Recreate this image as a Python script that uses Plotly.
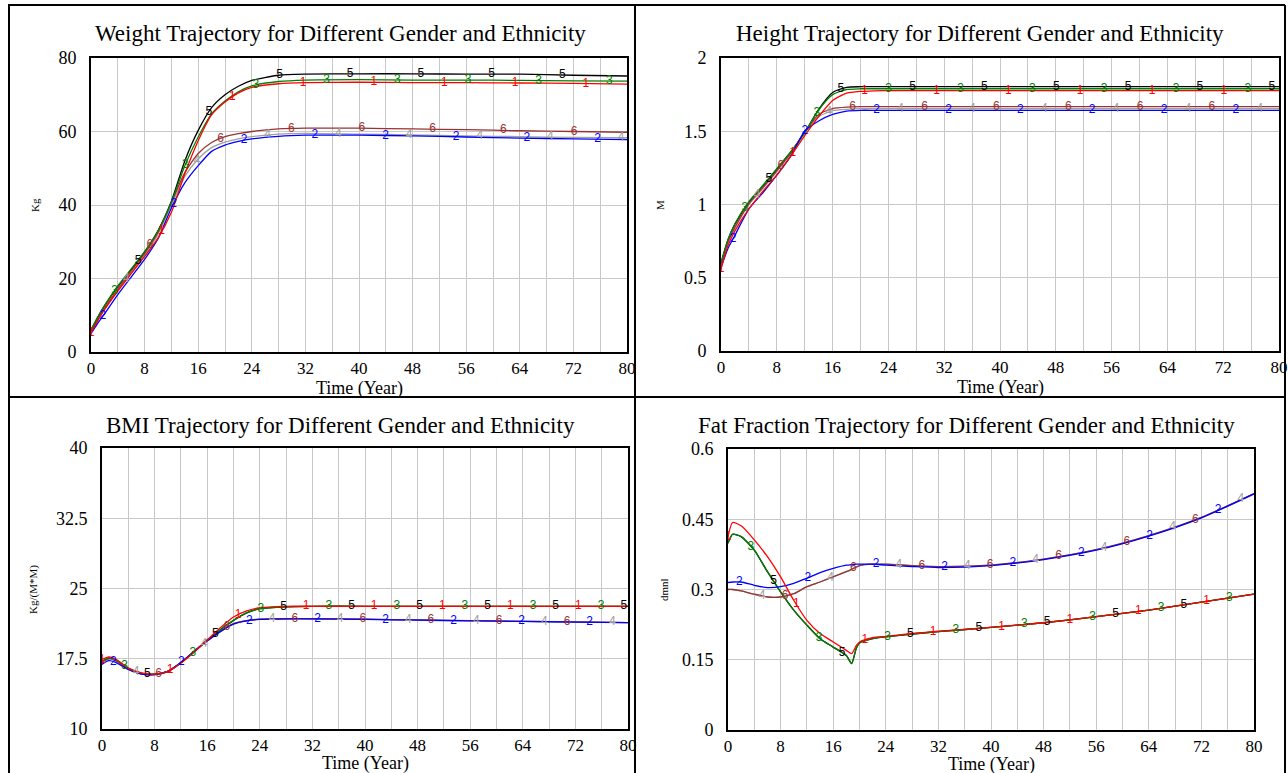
import numpy as np
import plotly.graph_objects as go

# ---------------- data ----------------
T = [0, 1, 2, 4, 6, 8, 10, 12, 14, 16, 18, 20, 22, 24, 28, 32, 40, 48, 56, 64, 72, 80]
T_FAT = [0, 0.7, 2, 4, 6, 8, 10, 12, 14, 16, 18, 18.8, 19.5, 20, 22, 24, 28, 32, 40, 48, 56, 64, 72, 80]

SERIES = ["1", "2", "3", "4", "5", "6"]
COLORS = {"1": "#ff0000", "2": "#0000ff", "3": "#008000", "4": "#a0a0a0", "5": "#000000", "6": "#993333"}
DRAW_ORDER = ["5", "4", "6", "3", "2", "1"]

X_TICKS = list(range(0, 81, 4))
X_TICKTEXT = [str(v) if v % 8 == 0 else "" for v in X_TICKS]

# Weight (Kg)
WEIGHT_1 = [5.2, 8.5, 11.5, 16.6, 21.3, 26.0, 31.0, 38.0, 48.5, 57.5, 64.5, 68.0, 70.5, 72.0, 73.0, 73.3, 73.4, 73.3, 73.3, 73.2, 73.1, 72.9]
WEIGHT_2 = [5.0, 7.8, 10.3, 15.6, 20.4, 25.2, 30.8, 39.2, 46.0, 50.7, 54.6, 56.3, 57.3, 58.0, 58.7, 59.0, 59.0, 58.8, 58.5, 58.2, 58.0, 57.8]
WEIGHT_3 = [6.0, 9.5, 12.6, 18.0, 22.6, 27.3, 33.0, 40.7, 50.7, 58.5, 64.8, 68.3, 70.8, 72.4, 73.6, 74.0, 74.1, 74.0, 74.0, 73.9, 73.8, 73.7]
WEIGHT_4 = [5.5, 8.6, 11.5, 16.8, 21.5, 26.3, 32.0, 40.0, 47.8, 52.5, 55.6, 57.1, 58.0, 58.6, 59.3, 59.5, 59.3, 59.1, 58.8, 58.6, 58.4, 58.3]
WEIGHT_5 = [6.0, 9.4, 12.5, 17.8, 22.4, 27.2, 33.0, 41.0, 52.0, 60.3, 66.5, 70.0, 72.3, 73.9, 75.3, 75.6, 75.7, 75.7, 75.6, 75.6, 75.3, 75.1]
WEIGHT_6 = [5.6, 8.8, 11.8, 17.2, 22.0, 26.8, 32.5, 40.6, 48.8, 54.0, 57.0, 58.6, 59.4, 60.0, 60.7, 60.9, 60.9, 60.7, 60.5, 60.2, 60.0, 59.8]
WEIGHT_TICKS = [0, 20, 40, 60, 80]
WEIGHT_TICKTEXT = ["0", "20", "40", "60", "80"]

# Height (M)
HEIGHT_1 = [0.56, 0.72, 0.82, 0.97, 1.09, 1.20, 1.33, 1.47, 1.60, 1.71, 1.76, 1.772, 1.776, 1.777, 1.777, 1.777, 1.777, 1.777, 1.777, 1.777, 1.777, 1.777]
HEIGHT_2 = [0.57, 0.70, 0.79, 0.97, 1.08, 1.20, 1.33, 1.50, 1.57, 1.615, 1.638, 1.643, 1.643, 1.643, 1.643, 1.643, 1.643, 1.643, 1.643, 1.643, 1.643, 1.643]
HEIGHT_3 = [0.60, 0.76, 0.87, 1.02, 1.13, 1.245, 1.36, 1.49, 1.645, 1.75, 1.785, 1.79, 1.79, 1.79, 1.79, 1.79, 1.79, 1.79, 1.79, 1.79, 1.79, 1.79]
HEIGHT_4 = [0.59, 0.74, 0.84, 1.00, 1.11, 1.225, 1.345, 1.49, 1.60, 1.64, 1.65, 1.654, 1.654, 1.654, 1.654, 1.654, 1.654, 1.654, 1.654, 1.654, 1.654, 1.654]
HEIGHT_5 = [0.60, 0.76, 0.865, 1.015, 1.125, 1.24, 1.355, 1.49, 1.65, 1.765, 1.80, 1.804, 1.804, 1.804, 1.804, 1.804, 1.804, 1.804, 1.804, 1.804, 1.804, 1.804]
HEIGHT_6 = [0.59, 0.745, 0.845, 1.005, 1.115, 1.23, 1.35, 1.495, 1.615, 1.655, 1.665, 1.668, 1.668, 1.668, 1.668, 1.668, 1.668, 1.668, 1.668, 1.668, 1.668, 1.668]
HEIGHT_TICKS = [0, 0.5, 1, 1.5, 2]
HEIGHT_TICKTEXT = ["0", "0.5", "1", "1.5", "2"]

# BMI (Kg/(M*M))
BMI_1 = [17.4, 17.7, 17.5, 16.5, 16.0, 15.85, 16.15, 17.05, 18.2, 19.5, 20.8, 21.95, 22.6, 22.95, 23.1, 23.1, 23.1, 23.1, 23.1, 23.1, 23.1, 23.1]
BMI_2 = [16.9, 17.3, 17.15, 16.35, 15.85, 15.8, 16.15, 17.1, 18.3, 19.4, 20.4, 21.2, 21.55, 21.7, 21.75, 21.75, 21.7, 21.62, 21.55, 21.48, 21.42, 21.35]
BMI_3 = [17.2, 17.6, 17.45, 16.5, 15.95, 15.85, 16.15, 17.1, 18.25, 19.5, 20.6, 21.6, 22.4, 22.85, 23.05, 23.1, 23.1, 23.1, 23.1, 23.1, 23.1, 23.1]
BMI_4 = [17.1, 17.45, 17.3, 16.4, 15.9, 15.8, 16.1, 17.05, 18.25, 19.4, 20.4, 21.25, 21.58, 21.72, 21.77, 21.77, 21.72, 21.64, 21.57, 21.5, 21.43, 21.36]
BMI_5 = [17.2, 17.55, 17.4, 16.45, 15.95, 15.85, 16.15, 17.1, 18.25, 19.5, 20.6, 21.6, 22.4, 22.85, 23.05, 23.1, 23.1, 23.1, 23.1, 23.1, 23.1, 23.1]
BMI_6 = [17.15, 17.5, 17.35, 16.4, 15.9, 15.82, 16.12, 17.05, 18.25, 19.45, 20.45, 21.25, 21.58, 21.72, 21.77, 21.77, 21.72, 21.64, 21.57, 21.5, 21.43, 21.36]
BMI_TICKS = [10, 17.5, 25, 32.5, 40]
BMI_TICKTEXT = ["10", "17.5", "25", "32.5", "40"]

# Fat fraction (dmnl)
FAT_1 = [0.413, 0.443, 0.436, 0.406, 0.370, 0.327, 0.277, 0.234, 0.206, 0.188, 0.170, 0.163, 0.180, 0.188, 0.197, 0.200, 0.206, 0.211, 0.219, 0.229, 0.242, 0.256, 0.273, 0.290]
FAT_2 = [0.315, 0.316, 0.316, 0.309, 0.304, 0.306, 0.313, 0.324, 0.336, 0.345, 0.352, 0.353, 0.354, 0.354, 0.354, 0.352, 0.349, 0.347, 0.351, 0.364, 0.384, 0.414, 0.453, 0.504]
FAT_3 = [0.399, 0.418, 0.413, 0.384, 0.338, 0.295, 0.256, 0.224, 0.195, 0.177, 0.159, 0.142, 0.174, 0.186, 0.195, 0.199, 0.205, 0.210, 0.219, 0.229, 0.242, 0.256, 0.273, 0.290]
FAT_4 = [0.300, 0.300, 0.297, 0.290, 0.284, 0.284, 0.291, 0.306, 0.316, 0.327, 0.338, 0.343, 0.348, 0.351, 0.354, 0.354, 0.351, 0.349, 0.352, 0.365, 0.385, 0.415, 0.454, 0.505]
FAT_5 = [0.399, 0.418, 0.413, 0.384, 0.338, 0.295, 0.256, 0.224, 0.195, 0.177, 0.159, 0.142, 0.174, 0.186, 0.195, 0.199, 0.205, 0.210, 0.219, 0.229, 0.242, 0.256, 0.273, 0.290]
FAT_6 = [0.300, 0.300, 0.297, 0.290, 0.284, 0.284, 0.291, 0.306, 0.316, 0.327, 0.338, 0.343, 0.348, 0.351, 0.354, 0.354, 0.351, 0.349, 0.352, 0.365, 0.385, 0.415, 0.454, 0.505]
FAT_TICKS = [0, 0.15, 0.3, 0.45, 0.6]
FAT_TICKTEXT = ["0", "0.15", "0.3", "0.45", "0.6"]

TITLES = [
    "Weight Trajectory for Different Gender and Ethnicity",
    "Height Trajectory for Different Gender and Ethnicity",
    "BMI Trajectory for Different Gender and Ethnicity",
    "Fat Fraction Trajectory for Different Gender and Ethnicity",
]
Y_TITLES = ["Kg", "M", "Kg/(M*M)", "dmnl"]
X_TITLE = "Time (Year)"

# ---------------- layout geometry (pixels) ----------------
W, H = 1288, 773
SERIF = "Liberation Serif, Times New Roman, serif"
SANS = "Liberation Sans, Arial, sans-serif"

panels = [
    dict(t=T, data=dict(zip(SERIES, [WEIGHT_1, WEIGHT_2, WEIGHT_3, WEIGHT_4, WEIGHT_5, WEIGHT_6])),
         ticks=WEIGHT_TICKS, ticktext=WEIGHT_TICKTEXT, yr=[0, 80],
         box=(91, 627, 58, 352), title_xy=(340, 33), ytitle_xy=(35, 205), xtitle_y=388, spacing=10.55),
    dict(t=T, data=dict(zip(SERIES, [HEIGHT_1, HEIGHT_2, HEIGHT_3, HEIGHT_4, HEIGHT_5, HEIGHT_6])),
         ticks=HEIGHT_TICKS, ticktext=HEIGHT_TICKTEXT, yr=[0, 2],
         box=(721, 1279, 58, 351), title_xy=(980, 33), ytitle_xy=(660, 205), xtitle_y=387, spacing=10.3),
    dict(t=T, data=dict(zip(SERIES, [BMI_1, BMI_2, BMI_3, BMI_4, BMI_5, BMI_6])),
         ticks=BMI_TICKS, ticktext=BMI_TICKTEXT, yr=[10, 40],
         box=(102, 628, 448, 729), title_xy=(340, 425), ytitle_xy=(33, 590), xtitle_y=763, spacing=10.35),
    dict(t=T_FAT, data=dict(zip(SERIES, [FAT_1, FAT_2, FAT_3, FAT_4, FAT_5, FAT_6])),
         ticks=FAT_TICKS, ticktext=FAT_TICKTEXT, yr=[0, 0.6],
         box=(728, 1254, 449, 730), title_xy=(966, 425), ytitle_xy=(664, 590), xtitle_y=764, spacing=10.4),
]

fig = go.Figure()
annotations = []
layout_axes = {}

for i, p in enumerate(panels):
    n = i + 1
    xa, ya = ("x", "y") if n == 1 else (f"x{n}", f"y{n}")
    x0, x1, y0, y1 = p["box"]
    # lines
    for s in DRAW_ORDER:
        fig.add_trace(go.Scatter(
            x=p["t"], y=p["data"][s], mode="lines", xaxis=xa, yaxis=ya,
            line=dict(color=COLORS[s], width=1.3, shape="spline", smoothing=0.6),
            showlegend=False, hoverinfo="skip"))
    # number labels along lines (Vensim style)
    for k, s in enumerate(SERIES):
        step = p["spacing"]
        xs = np.arange(k * step / 6.0, 79.6, step)
        ys = np.interp(xs, p["t"], p["data"][s])
        fig.add_trace(go.Scatter(
            x=xs, y=ys, mode="text", text=[s] * len(xs), xaxis=xa, yaxis=ya,
            textposition="middle center",
            textfont=dict(family=SANS, size=12, color=COLORS[s]),
            showlegend=False, hoverinfo="skip"))

    axis_common = dict(showline=True, mirror=True, linecolor="black", linewidth=2,
                       showgrid=True, gridcolor="#c8c8c8", gridwidth=1, zeroline=False,
                       automargin=False, ticks="", fixedrange=True)
    layout_axes["xaxis" if n == 1 else f"xaxis{n}"] = dict(
        domain=[x0 / W, x1 / W], range=[0, 80], tickvals=X_TICKS, ticktext=X_TICKTEXT,
        anchor=ya, tickfont=dict(family=SERIF, size=17, color="black"), **axis_common)
    layout_axes["yaxis" if n == 1 else f"yaxis{n}"] = dict(
        domain=[1 - y1 / H, 1 - y0 / H], range=p["yr"], tickvals=p["ticks"], ticktext=p["ticktext"],
        anchor=xa, ticklabelstandoff=9, tickfont=dict(family=SERIF, size=18, color="black"), **axis_common)

    tx, ty = p["title_xy"]
    annotations.append(dict(x=tx / W, y=1 - ty / H, xref="paper", yref="paper", text=TITLES[i],
                            showarrow=False, xanchor="center", yanchor="middle",
                            font=dict(family=SERIF, size=23, color="black")))
    yx, yy = p["ytitle_xy"]
    annotations.append(dict(x=yx / W, y=1 - yy / H, xref="paper", yref="paper", text=Y_TITLES[i],
                            showarrow=False, textangle=-90, xanchor="center", yanchor="middle",
                            font=dict(family=SERIF, size=11, color="black")))
    annotations.append(dict(x=(x0 + x1) / 2 / W, y=1 - p["xtitle_y"] / H, xref="paper", yref="paper",
                            text=X_TITLE, showarrow=False, xanchor="center", yanchor="middle",
                            font=dict(family=SERIF, size=18, color="black")))

# panel frames
def hline(y, xa, xb):
    return dict(type="line", xref="paper", yref="paper", x0=xa / W, x1=xb / W, y0=1 - y / H, y1=1 - y / H,
                line=dict(color="black", width=2))

def vline(x, ya, yb):
    return dict(type="line", xref="paper", yref="paper", x0=x / W, x1=x / W, y0=1 - ya / H, y1=1 - yb / H,
                line=dict(color="black", width=2))

shapes = [hline(5, 8, 1285), hline(397, 8, 1285), vline(9, 5, 773), vline(635, 5, 773), vline(1285, 5, 773)]

fig.update_layout(width=W, height=H, margin=dict(l=0, r=0, t=0, b=0, autoexpand=False),
                  paper_bgcolor="white", plot_bgcolor="white", hovermode=False,
                  annotations=annotations, shapes=shapes, **layout_axes)

fig.write_html("out.html", config={"displayModeBar": False},
               post_script="document.body.style.margin='0px';document.body.style.overflow='hidden';")
